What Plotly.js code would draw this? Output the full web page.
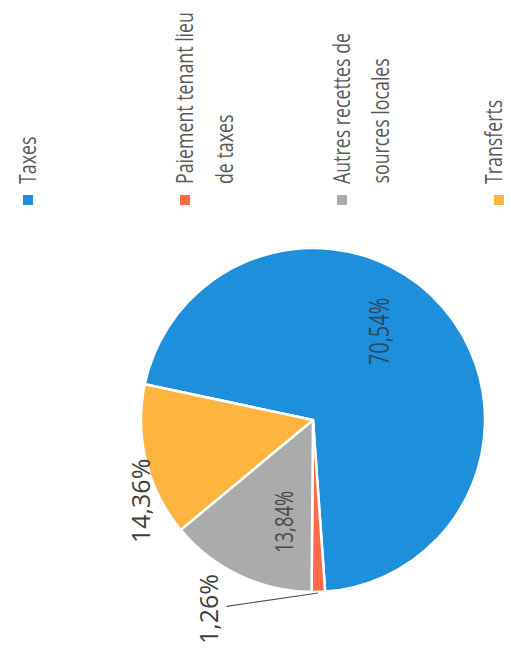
<!DOCTYPE html>
<html>
<head>
<meta charset="utf-8">
<script src="https://cdn.plot.ly/plotly-3.0.1.min.js"></script>
<style>
  html, body { margin: 0; padding: 0; background: #ffffff; overflow: hidden; }
  #chart { width: 511px; height: 657px; }
</style>
</head>
<body>
<div id="chart"></div>
<script>
// ---- data ----
const categories = ['Taxes', 'Paiement tenant lieu de taxes', 'Autres recettes de sources locales', 'Transferts'];
const values = [70.54, 1.26, 13.84, 14.36];
const legendLines = [['Taxes'], ['Paiement tenant lieu', 'de taxes'], ['Autres recettes de', 'sources locales'], ['Transferts']];
const colors = ['#1E8FDB', '#FF6B4A', '#ABABAB', '#FFB440'];

// ---- helpers (the whole chart is shown turned a quarter turn, text reading upward) ----
const W = 511, H = 657;
const px = x => x / W;
const py = y => 1 - y / H;
const total = values.reduce((a, b) => a + b, 0);
const pctText = v => (v / total * 100).toFixed(2).replace('.', ',') + '%';

const cx = 313, cy = 420, R = 172;

const trace = {
  type: 'pie',
  labels: categories,
  values: values,
  sort: false,
  direction: 'clockwise',
  rotation: -78,
  textinfo: 'none',
  marker: { colors: colors, line: { color: '#ffffff', width: 2.5 } },
  domain: { x: [px(cx - R), px(cx + R)], y: [py(cy + R), py(cy - R)] },
  showlegend: false,
  hoverinfo: 'none'
};

const annotations = [];
const shapes = [];
const condensedIdx = [];
const lblFamily = 'Open Sans, Liberation Sans, sans-serif';
const ANG = -90;

// data labels
condensedIdx.push(annotations.length);
annotations.push({
  xref: 'paper', yref: 'paper', x: px(378), y: py(332), xanchor: 'center', yanchor: 'middle', align: 'center',
  textangle: ANG, text: pctText(values[0]), showarrow: false,
  font: { family: lblFamily, size: 27, color: '#2b4a63' }
});
condensedIdx.push(annotations.length);
annotations.push({
  xref: 'paper', yref: 'paper', x: px(283), y: py(522), xanchor: 'center', yanchor: 'middle', align: 'center',
  textangle: ANG, text: pctText(values[2]), showarrow: false,
  font: { family: lblFamily, size: 25, color: '#4a4a4a' }
});
annotations.push({
  xref: 'paper', yref: 'paper', x: px(140), y: py(501), xanchor: 'center', yanchor: 'middle',
  textangle: ANG, text: pctText(values[3]), showarrow: false,
  font: { family: lblFamily, size: 25, color: '#404040' }
});
annotations.push({
  xref: 'paper', yref: 'paper', x: px(318), y: py(593),
  ax: -110, ay: 16, axref: 'pixel', ayref: 'pixel',
  textangle: ANG, text: pctText(values[1]), showarrow: true, arrowhead: 0, arrowwidth: 1.2, arrowcolor: '#555555',
  font: { family: lblFamily, size: 25, color: '#404040' }
});

// legend (widely spaced entries)
const legFont = { family: lblFamily, size: 24, color: '#595959' };
legendLines.forEach((lines, i) => {
  const x0 = 28 + i * 157;
  shapes.push({
    type: 'rect', xref: 'paper', yref: 'paper',
    x0: px(x0 - 5), x1: px(x0 + 5), y0: py(205), y1: py(195),
    fillcolor: colors[i], line: { width: 0 }
  });
  lines.forEach((ln, k) => {
    condensedIdx.push(annotations.length);
    annotations.push({
      xref: 'paper', yref: 'paper', x: px(Math.min(x0 - 2 + k * 40, 492)), y: py(186),
      xanchor: 'center', yanchor: 'bottom', align: 'left', textangle: ANG,
      text: ln, showarrow: false, font: legFont
    });
  });
});

const layout = {
  width: W, height: H,
  margin: { l: 0, r: 0, t: 0, b: 0 },
  paper_bgcolor: '#ffffff',
  separators: ', ',
  showlegend: false,
  annotations: annotations,
  shapes: shapes
};

Plotly.newPlot('chart', [trace], layout, { displayModeBar: false, staticPlot: true }).then(gd => {
  // condensed look of the scanned typeface: squeeze glyphs along the reading direction
  const k = 0.74;
  condensedIdx.forEach(idx => {
    const g = gd.querySelector('.annotation[data-index="' + idx + '"]');
    if (!g) return;
    const t = g.querySelector('text.annotation-text');
    if (!t) return;
    const x0 = parseFloat(t.getAttribute('x')) || 0;
    const prev = t.getAttribute('transform') || '';
    t.setAttribute('transform', prev + ' translate(' + x0 + ',0) scale(' + k + ',1) translate(' + (-x0) + ',0)');
  });
});
</script>
</body>
</html>
